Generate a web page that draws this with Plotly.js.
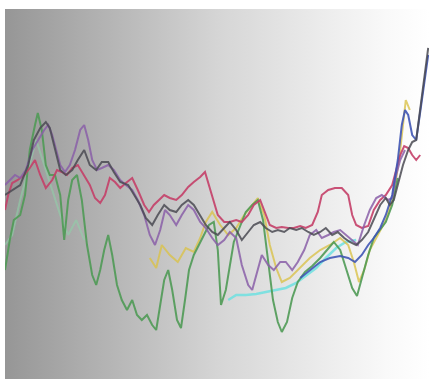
<!DOCTYPE html>
<html>
<head>
<meta charset="utf-8">
<script src="https://cdn.plot.ly/plotly-3.0.1.min.js"></script>
<style>
  html, body { margin: 0; padding: 0; background: #ffffff; }
  #wrap { position: relative; width: 429px; height: 379px; overflow: hidden; }
  #bg { position: absolute; left: 5px; top: 9px; width: 424px; height: 370px;
        background: linear-gradient(to right, #969696 0%, #b5b5b5 25%, #d5d5d5 50%, #ececec 75%, #f9f9f9 90%, #ffffff 100%); }
  #chart { position: absolute; left: 0; top: 0; width: 429px; height: 379px; }
</style>
</head>
<body>
<div id="wrap"><div id="bg"></div><div id="chart"></div></div>
<script>
// Reconstructed temperature-anomaly series (year, anomaly)
const greenYears = [940,952,962,978,990,1002,1015,1022,1032,1042,1052,1065,1078,1088,1098,1108,1120,1132,1145,1158,1168,1178,1188,1198,1208,1220,1232,1245,1258,1270,1282,1295,1308,1318,1328,1338,1348,1358,1370,1380,1390,1400,1412,1425,1438,1450,1462,1472,1480,1492,1512,1528,1542,1558,1572,1585,1598,1610,1622,1632,1645,1658,1672,1690,1708,1728,1745,1762,1778,1792,1808,1820,1832,1848,1862,1878,1892,1908,1922];
const greenVals  = [-0.455,-0.305,-0.205,-0.18,-0.08,0.145,0.27,0.33,0.245,0.07,0.02,0.02,-0.08,-0.305,-0.105,-0.005,0.02,-0.105,-0.33,-0.48,-0.53,-0.455,-0.355,-0.28,-0.38,-0.53,-0.605,-0.655,-0.605,-0.68,-0.705,-0.68,-0.73,-0.755,-0.63,-0.505,-0.455,-0.555,-0.705,-0.745,-0.605,-0.455,-0.38,-0.33,-0.28,-0.23,-0.215,-0.355,-0.63,-0.555,-0.315,-0.23,-0.165,-0.13,-0.105,-0.205,-0.405,-0.605,-0.715,-0.765,-0.715,-0.595,-0.515,-0.465,-0.435,-0.395,-0.355,-0.315,-0.355,-0.445,-0.545,-0.585,-0.495,-0.38,-0.295,-0.255,-0.215,-0.13,0.005];

const mintYears = [940,958,978,998,1018,1038,1058,1078,1098,1118,1138];
const mintVals  = [-0.33,-0.28,-0.105,0.045,0.195,0.07,-0.055,-0.18,-0.28,-0.205,-0.305];

const redYears = [940,948,958,972,988,1002,1015,1028,1042,1058,1070,1082,1095,1108,1122,1138,1152,1165,1178,1190,1202,1215,1228,1242,1258,1272,1288,1300,1312,1325,1338,1352,1368,1382,1398,1412,1428,1440,1450,1460,1472,1488,1502,1518,1532,1548,1562,1578,1590,1602,1618,1632,1648,1662,1678,1692,1708,1722,1732,1748,1765,1782,1798,1808,1818,1832,1848,1862,1878,1892,1908,1918,1928,1938,1948,1958,1968,1978];
const redVals  = [-0.155,-0.08,-0.02,-0.005,0.02,0.055,0.095,0.02,-0.045,-0.005,0.045,0.035,0.02,0.055,0.07,0.02,-0.03,-0.095,-0.12,-0.08,0.005,-0.015,-0.045,-0.02,0.005,-0.055,-0.13,-0.165,-0.13,-0.105,-0.08,-0.095,-0.105,-0.08,-0.04,-0.015,0.01,0.035,-0.03,-0.105,-0.18,-0.215,-0.215,-0.205,-0.215,-0.18,-0.13,-0.105,-0.165,-0.23,-0.245,-0.24,-0.245,-0.245,-0.235,-0.245,-0.23,-0.165,-0.08,-0.055,-0.045,-0.045,-0.08,-0.18,-0.23,-0.245,-0.235,-0.155,-0.105,-0.08,-0.03,0.045,0.12,0.165,0.155,0.12,0.095,0.12];

const purpleYears = [940,952,965,978,992,1008,1022,1038,1048,1058,1068,1078,1090,1102,1115,1128,1138,1148,1158,1170,1182,1198,1212,1228,1242,1258,1272,1288,1302,1315,1328,1340,1352,1368,1382,1398,1412,1428,1442,1458,1472,1488,1502,1518,1532,1548,1558,1568,1582,1598,1612,1628,1642,1658,1672,1688,1702,1718,1732,1748,1762,1778,1792,1808,1822,1838,1852,1868,1882,1898,1908,1918,1928,1940];
const purpleVals  = [-0.03,-0.005,0.02,0.005,0.045,0.145,0.195,0.245,0.27,0.22,0.145,0.07,0.035,0.07,0.145,0.245,0.27,0.195,0.095,0.045,0.055,0.07,0.045,-0.005,-0.03,-0.055,-0.105,-0.18,-0.28,-0.33,-0.255,-0.155,-0.18,-0.23,-0.18,-0.13,-0.155,-0.215,-0.245,-0.295,-0.33,-0.305,-0.265,-0.295,-0.43,-0.53,-0.555,-0.48,-0.38,-0.43,-0.455,-0.415,-0.415,-0.455,-0.415,-0.355,-0.28,-0.255,-0.295,-0.28,-0.265,-0.255,-0.28,-0.305,-0.33,-0.23,-0.155,-0.095,-0.08,-0.105,-0.095,0.02,0.095,0.145];

const darkYears = [940,958,978,998,1012,1028,1042,1052,1065,1078,1092,1108,1122,1138,1152,1168,1182,1198,1212,1228,1248,1262,1278,1292,1308,1322,1338,1352,1368,1382,1398,1412,1428,1442,1458,1472,1488,1502,1518,1532,1548,1562,1578,1592,1608,1622,1638,1652,1668,1682,1698,1712,1728,1742,1758,1772,1788,1802,1818,1832,1848,1862,1878,1892,1902,1912,1922,1935,1948,1958,1968,1978,1988,1998];
const darkVals  = [-0.08,-0.055,-0.03,0.07,0.195,0.255,0.285,0.255,0.145,0.045,0.02,0.045,0.095,0.145,0.07,0.045,0.085,0.085,0.035,-0.015,-0.03,-0.08,-0.13,-0.195,-0.23,-0.18,-0.13,-0.155,-0.165,-0.13,-0.105,-0.13,-0.18,-0.23,-0.265,-0.28,-0.245,-0.215,-0.255,-0.305,-0.265,-0.23,-0.215,-0.245,-0.265,-0.255,-0.265,-0.245,-0.255,-0.245,-0.265,-0.28,-0.265,-0.245,-0.28,-0.265,-0.295,-0.315,-0.33,-0.305,-0.265,-0.205,-0.13,-0.095,-0.13,-0.105,-0.03,0.07,0.145,0.185,0.195,0.345,0.495,0.655];

const blueYears = [1678,1702,1728,1752,1778,1798,1815,1832,1848,1862,1878,1892,1908,1922,1932,1940,1948,1958,1968,1978,1988,1998];
const blueVals  = [-0.495,-0.455,-0.415,-0.395,-0.385,-0.395,-0.415,-0.38,-0.33,-0.295,-0.245,-0.18,-0.08,0.095,0.27,0.345,0.32,0.22,0.195,0.335,0.485,0.62];

const yellowYears = [1302,1318,1332,1352,1372,1392,1412,1428,1442,1458,1478,1498,1518,1538,1558,1572,1588,1602,1618,1632,1652,1678,1702,1728,1752,1778,1798,1812,1825,1838,1852,1872,1892,1912,1928,1942,1952];
const yellowVals  = [-0.395,-0.445,-0.33,-0.38,-0.415,-0.345,-0.365,-0.295,-0.215,-0.165,-0.23,-0.28,-0.245,-0.18,-0.13,-0.095,-0.18,-0.33,-0.445,-0.515,-0.495,-0.445,-0.395,-0.355,-0.33,-0.295,-0.33,-0.415,-0.515,-0.455,-0.355,-0.28,-0.205,-0.08,0.145,0.395,0.345];

const cyanYears = [1498,1518,1542,1568,1592,1618,1642,1668,1692,1718,1742,1768,1792,1818];
const cyanVals  = [-0.605,-0.58,-0.58,-0.575,-0.565,-0.555,-0.545,-0.52,-0.485,-0.445,-0.395,-0.345,-0.315,-0.305];

function tr(x, y, color, width, opacity) {
  return { type: 'scatter', mode: 'lines', x: x, y: y,
           line: { color: color, width: width }, opacity: opacity, hoverinfo: 'skip' };
}

const data = [
  tr(mintYears, mintVals, '#8fd0a8', 2, 0.6),
  tr(cyanYears, cyanVals, '#6fe0e0', 2.5, 0.85),
  tr(yellowYears, yellowVals, '#d9c24a', 2, 0.8),
  tr(greenYears, greenVals, '#4f9a55', 2, 0.9),
  tr(redYears, redVals, '#c43f68', 2, 0.9),
  tr(purpleYears, purpleVals, '#8a5fa8', 2, 0.85),
  tr(blueYears, blueVals, '#3f55b5', 2, 0.9),
  tr(darkYears, darkVals, '#4a4a52', 2, 0.85)
];

const layout = {
  width: 429, height: 379,
  margin: { l: 5, r: 0, t: 9, b: 0, pad: 0 },
  paper_bgcolor: 'rgba(0,0,0,0)',
  plot_bgcolor: 'rgba(0,0,0,0)',
  showlegend: false,
  xaxis: { range: [940, 2000], visible: false, fixedrange: true },
  yaxis: { range: [-1.0, 0.85], visible: false, fixedrange: true }
};

Plotly.newPlot('chart', data, layout, { staticPlot: true, displayModeBar: false });
</script>
</body>
</html>
